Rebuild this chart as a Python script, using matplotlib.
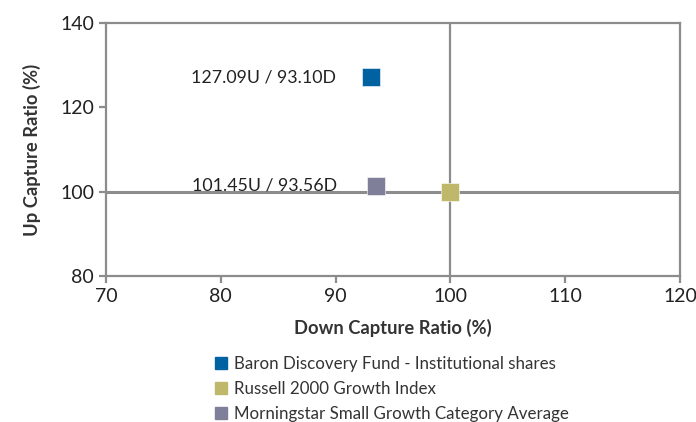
import matplotlib.pyplot as plt
from matplotlib.lines import Line2D

plt.rcParams["font.family"] = ["Lato", "DejaVu Sans"]

series = [
    "Baron Discovery Fund - Institutional shares",
    "Russell 2000 Growth Index",
    "Morningstar Small Growth Category Average",
]
down_capture = [93.10, 100.00, 93.56]
up_capture = [127.09, 100.00, 101.45]
labels = ["127.09U / 93.10D", None, "101.45U / 93.56D"]
colors = ["#0062a1", "#bfb86b", "#7f7f99"]
label_offsets = [-25, None, -28]

grid_color = "#8c8c8c"

fig = plt.figure(figsize=(6.96, 4.22), dpi=100)
ax = fig.add_axes([0.1523, 0.346, 0.8247, 0.5995])

ax.set_xlim(70, 120)
ax.set_ylim(80, 140)
ax.set_xticks([70, 80, 90, 100, 110, 120])
ax.set_yticks([80, 100, 120, 140])

# quadrant lines
ax.axvline(100, color=grid_color, lw=1.6, zorder=1)
ax.axhline(100, color=grid_color, lw=2.2, zorder=1)

for x, y, c, lab, off in zip(down_capture, up_capture, colors, labels, label_offsets):
    ax.plot(x, y, marker="s", ms=13.5, color=c, mec="white", mew=0.4, ls="none", zorder=3)
    if lab:
        ax.annotate(lab, (x, y), xytext=(off, 0), textcoords="offset points",
                    ha="right", va="center", fontsize=12.8, color="#222222")

for s in ax.spines.values():
    s.set_color(grid_color)
    s.set_linewidth(1.6)

ax.tick_params(colors=grid_color, width=1.6, length=5, labelsize=14, labelcolor="#222222")

ax.set_xlabel("Down Capture Ratio (%)", fontsize=13.2, fontweight="bold", color="#333333", labelpad=10)
ax.set_ylabel("Up Capture Ratio (%)", fontsize=13.2, fontweight="bold", color="#333333", labelpad=14)

handles = [Line2D([], [], marker="s", ls="none", color=c, ms=9) for c in colors]
fig.legend(handles, series, loc="upper left", bbox_to_anchor=(0.295, 0.173),
           frameon=False, fontsize=12.2, handletextpad=0.3, labelspacing=0.55,
           handlelength=1.0, borderaxespad=0, labelcolor="#333333")

fig.savefig("out.png", dpi=100)
